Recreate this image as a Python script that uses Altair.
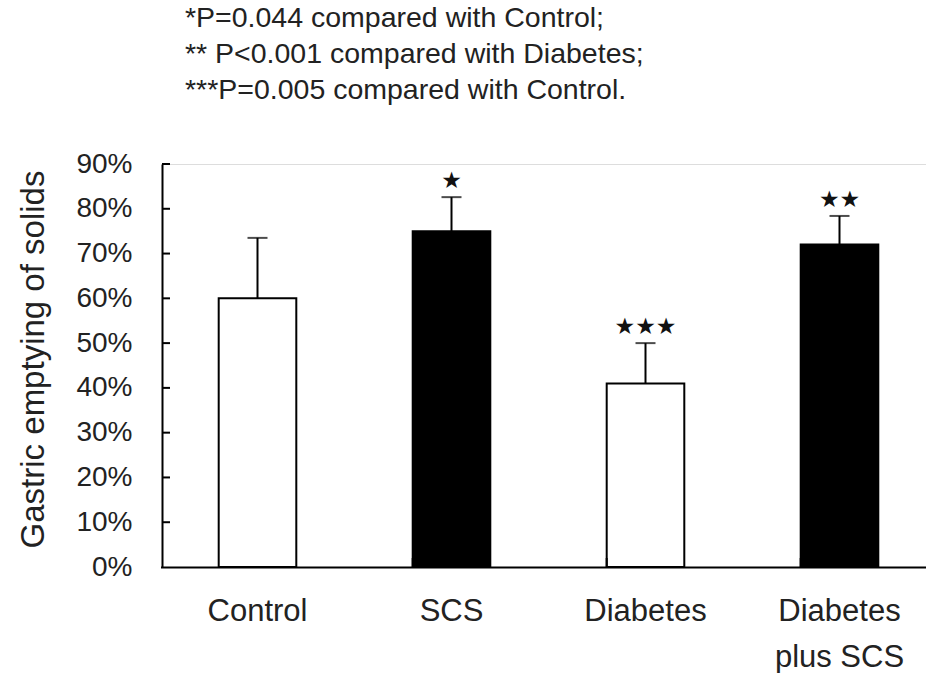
import altair as alt
import pandas as pd

categories = ["Control", "SCS", "Diabetes", "Diabetes plus SCS"]
means = [0.60, 0.75, 0.41, 0.72]
errors = [0.135, 0.076, 0.09, 0.064]
fills = ["white", "black", "white", "black"]
stars = ["", "★", "★★★", "★★"]
y_ticks = [0.0, 0.1, 0.2, 0.3, 0.4, 0.5, 0.6, 0.7, 0.8, 0.9]
x_boundaries = ["SCS", "Diabetes", "Diabetes plus SCS"]
note_lines = [
    "*P=0.044 compared with Control;",
    "** P<0.001 compared with Diabetes;",
    "***P=0.005 compared with Control.",
]

df = pd.DataFrame({
    "cat": categories,
    "mean": means,
    "top": [m + e for m, e in zip(means, errors)],
    "fill": fills,
    "stars": stars,
})
ticks_df = pd.DataFrame({"v": y_ticks[1:]})
bound_df = pd.DataFrame({"cat": x_boundaries})

FONT = "Liberation Sans"
PLOT_W = 764
PLOT_H = 403

xscale = alt.Scale(domain=categories, range=[-1.5, 774.5], paddingInner=0.6, paddingOuter=0.3)
yscale = alt.Scale(domain=[0, 0.9], nice=False, zero=True)

x_enc = alt.X(
    "cat:N", scale=xscale, sort=categories, title=None,
    axis=alt.Axis(
        labelAngle=0, ticks=False, tickSize=0, labelPadding=29,
        labelFontSize=31, labelFont=FONT, labelColor="#222222",
        domainColor="black", domainWidth=2, labelLineHeight=46,
        labelBaseline="top",
        labelExpr="datum.value == 'Diabetes plus SCS' ? ['Diabetes', 'plus SCS'] : datum.value",
    ),
)
y_enc = alt.Y(
    "mean:Q", scale=yscale, title="Gastric emptying of solids",
    axis=alt.Axis(
        values=y_ticks, format=".0%", ticks=False, tickSize=0, labelPadding=30,
        labelFontSize=28, labelFont=FONT, labelColor="#222222",
        domainColor="black", domainWidth=2, grid=False,
        titleFont=FONT, titleFontSize=33, titleFontWeight="normal", titleColor="#222222",
        titleX=-119, titleY=195, titleAngle=-90, titleBaseline="alphabetic", titleAlign="center",
    ),
)

base = alt.Chart(df)

bars = base.mark_bar(stroke="black", strokeWidth=2).encode(
    x=x_enc, y=y_enc, fill=alt.Fill("fill:N", scale=None)
)
err_line = base.mark_rule(color="black", strokeWidth=2).encode(
    x=alt.X("cat:N", scale=xscale, sort=categories),
    y=alt.Y("mean:Q", scale=yscale), y2="top:Q",
)
err_cap = base.mark_tick(color="black", size=20, thickness=2, orient="horizontal").encode(
    x=alt.X("cat:N", scale=xscale, sort=categories),
    y=alt.Y("top:Q", scale=yscale),
)
star_text = base.mark_text(
    font="DejaVu Sans", fontSize=23, baseline="alphabetic", dy=-9, color="#111111"
).encode(
    x=alt.X("cat:N", scale=xscale, sort=categories),
    y=alt.Y("top:Q", scale=yscale),
    text="stars:N",
)
y_inner_ticks = alt.Chart(ticks_df).mark_rule(color="black", strokeWidth=2).encode(
    x=alt.value(0), x2=alt.value(8), y=alt.Y("v:Q", scale=yscale)
)
x_inner_ticks = alt.Chart(bound_df).mark_rule(color="black", strokeWidth=2).encode(
    x=alt.X("cat:N", scale=xscale, sort=categories, bandPosition=0),
    y=alt.value(PLOT_H), y2=alt.value(PLOT_H - 9),
)
note = alt.Chart(pd.DataFrame({"a": [0]})).mark_text(
    font=FONT, fontSize=28.5, align="left", baseline="alphabetic", lineHeight=36, color="#222222"
).encode(
    x=alt.value(23), y=alt.value(-137), text=alt.value(note_lines)
)

chart = alt.layer(
    bars, err_line, err_cap, star_text, y_inner_ticks, x_inner_ticks, note
).properties(
    width=PLOT_W, height=PLOT_H,
    autosize=alt.AutoSizeParams(type="none"),
    padding={"left": 162, "top": 164, "right": 0, "bottom": 106},
).configure_view(stroke=None).configure(background="white")

chart.save("out.html", embed_options={"renderer": "svg", "actions": False})
